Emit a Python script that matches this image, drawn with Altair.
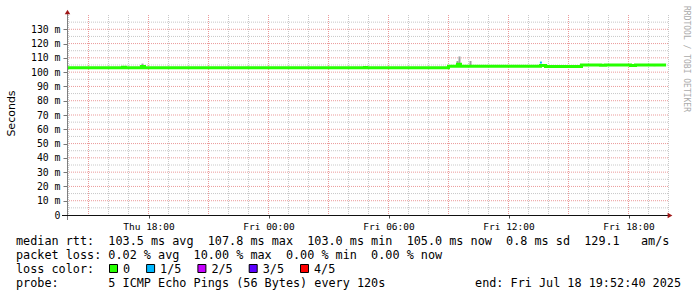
import altair as alt
import pandas as pd

NB = "\u00a0"

# ---------------- data ----------------
# time axis in hours since Thu 00:00
tick_hours = [18, 24, 30, 36, 42]
tick_labels = ["Thu 18:00", "Fri 00:00", "Fri 06:00", "Fri 12:00", "Fri 18:00"]
y_tick_values = [0, 10, 20, 30, 40, 50, 60, 70, 80, 90, 100, 110, 120, 130]

# median rtt (ms), step series
median_t = [13.925, 16.70, 16.85, 17.65, 17.80, 28.80, 28.90, 33.00, 33.45, 33.60,
            37.60, 37.85, 39.65, 40.60, 40.85, 42.10, 42.35, 43.88]
median_v = [103.0, 103.4, 103.0, 104.0, 103.0, 103.3, 103.0, 104.2, 105.5, 104.2,
            104.6, 104.0, 105.0, 104.8, 105.0, 104.7, 105.0, 105.0]

# smoke (ping spread), ms
smoke_t = [16.75, 17.70, 22.95, 28.85, 33.45, 33.55, 34.10, 37.65, 39.90, 40.70, 41.30, 42.60, 43.30]
smoke_lo = [103.0, 103.0, 103.0, 103.0, 104.2, 104.2, 104.2, 104.3, 104.2, 104.2, 104.3, 104.3, 104.2]
smoke_hi = [103.8, 106.0, 103.8, 104.2, 107.8, 111.0, 107.8, 105.5, 105.0, 104.8, 104.8, 104.9, 105.2]

# packet-loss coloured median piece
loss_t = [37.62]
loss_lo = [106.0]
loss_hi = [107.4]

legend_line1 = "median rtt:  103.5 ms avg  107.8 ms max  103.0 ms min  105.0 ms now  0.8 ms sd  129.1   am/s"
legend_line2 = "packet loss: 0.02 % avg  10.00 % max  0.00 % min  0.00 % now"
legend_line3 = "loss color:"
legend_line4 = "probe:       5 ICMP Echo Pings (56 Bytes) every 120s"
legend_end = "end: Fri Jul 18 19:52:40 2025"
watermark = "RRDTOOL / TOBI OETIKER"
loss_labels = ["0", "1/5", "2/5", "3/5", "4/5"]
loss_colors = ["#26ff00", "#00b8ff", "#c600ff", "#5b00ff", "#ff0000"]

# ---------------- layout ----------------
X0, X1 = 13.925, 44.025
W, H = 602, 200
MONO = "DejaVu Sans Mono"
CW = 7.1

xscale = alt.Scale(domain=[X0, X1], nice=False, zero=False)
yscale = alt.Scale(domain=[0, 140], nice=False, zero=False)

label_expr_x = ("[" + ",".join(f"'{l}'" for l in tick_labels) + "][indexof(["
                + ",".join(str(h) for h in tick_hours) + "], datum.value)]")
label_expr_y = f"datum.value == 0 ? '0{NB}{NB}' : datum.value + '{NB}m'"

xaxis = alt.Axis(values=tick_hours, labelExpr=label_expr_x, labelFont=MONO, labelFontSize=9.5,
                 labelColor="#000000", domain=False, grid=False, ticks=True, tickSize=3,
                 tickColor="#555555", labelPadding=3, title=None, labelFlush=False)
yaxis = alt.Axis(values=y_tick_values, labelExpr=label_expr_y, labelFont=MONO, labelFontSize=9.8,
                 labelColor="#000000", domain=False, grid=False, ticks=True, tickSize=4,
                 tickColor="#777777", labelPadding=3, title="Seconds", titleFont="DejaVu Sans",
                 titleFontSize=11, titleFontWeight="normal", titleColor="#000000",
                 titleX=-56, titleY=98, titleAlign="center", titleBaseline="middle",
                 labelOverlap=False)


def X(field):
    return alt.X(field, type="quantitative", scale=xscale, axis=xaxis)


def Y(field):
    return alt.Y(field, type="quantitative", scale=yscale, axis=yaxis)


layers = []

# grid
minor_h = [h for h in range(14, 45) if h % 3 != 0]
major_h = [h for h in range(15, 45) if h % 3 == 0]
minor_v = [v for v in range(5, 140, 10)]
major_v = [v for v in range(10, 140, 10)]

layers.append(alt.Chart(pd.DataFrame({"h": minor_h})).mark_rule(
    color="#c8c8c8", strokeWidth=1, strokeDash=[1, 1]).encode(
    x=X("h"), y=alt.value(0), y2=alt.value(H)))
layers.append(alt.Chart(pd.DataFrame({"v": minor_v})).mark_rule(
    color="#c8c8c8", strokeWidth=1, strokeDash=[1, 1]).encode(
    y=Y("v"), x=alt.value(0), x2=alt.value(W)))
layers.append(alt.Chart(pd.DataFrame({"h": major_h})).mark_rule(
    color="#eb9a9a", strokeWidth=1, strokeDash=[1, 1]).encode(
    x=X("h"), y=alt.value(0), y2=alt.value(H)))
layers.append(alt.Chart(pd.DataFrame({"v": major_v})).mark_rule(
    color="#eb9a9a", strokeWidth=1, strokeDash=[1, 1]).encode(
    y=Y("v"), x=alt.value(0), x2=alt.value(W)))

# smoke
layers.append(alt.Chart(pd.DataFrame({"t": smoke_t, "lo": smoke_lo, "hi": smoke_hi})).mark_rule(
    color="#a0a0a0", strokeWidth=2).encode(x=X("t"), y=Y("lo"), y2=alt.Y2("hi")))

# median
layers.append(alt.Chart(pd.DataFrame({"t": median_t, "v": median_v})).mark_line(
    interpolate="step-after", strokeWidth=3, color="#26ff00", strokeCap="butt").encode(
    x=X("t"), y=Y("v")))

# loss piece
layers.append(alt.Chart(pd.DataFrame({"t": loss_t, "lo": loss_lo, "hi": loss_hi})).mark_rule(
    color="#00b8ff", strokeWidth=2).encode(x=X("t"), y=Y("lo"), y2=alt.Y2("hi")))

# axes lines and arrows
one = pd.DataFrame({"a": [0]})
layers.append(alt.Chart(one).mark_rule(color="#808080", strokeWidth=1).encode(
    x=alt.value(0.5), y=alt.value(-3), y2=alt.value(H + 5)))
layers.append(alt.Chart(one).mark_rule(color="#111111", strokeWidth=1).encode(
    x=alt.value(-5), x2=alt.value(W), y=alt.value(H + 0.5)))
layers.append(alt.Chart(one).mark_point(shape="triangle-up", filled=True, size=30,
                                        color="#a01818", opacity=1).encode(
    x=alt.value(0.5), y=alt.value(-3)))
layers.append(alt.Chart(one).mark_point(shape="triangle-right", filled=True, size=30,
                                        color="#a01818", opacity=1).encode(
    x=alt.value(W + 1), y=alt.value(H + 0.5)))


def txt(s, x, y, align="left", size=11.8, color="#000000", font=MONO, angle=0):
    return alt.Chart(pd.DataFrame({"s": [s.replace(" ", NB)]})).mark_text(
        align=align, baseline="middle", font=font, fontSize=size, color=color, angle=angle).encode(
        x=alt.value(x), y=alt.value(y), text="s:N")


LX = -51
layers.append(txt(legend_line1, LX, 226))
layers.append(txt(legend_line2, LX, 240))
layers.append(txt(legend_line3, LX, 254))
layers.append(txt(legend_line4, LX, 268))
layers.append(txt(legend_end, 614, 268, align="right"))
layers.append(txt(watermark, 619, 44, align="center", size=8, color="#aaaaaa", angle=90))

bx = 42.0
for lab, col in zip(loss_labels, loss_colors):
    layers.append(alt.Chart(one).mark_rect(fill=col, stroke="#000000", strokeWidth=1).encode(
        x=alt.value(bx + 0.5), x2=alt.value(bx + 8.5), y=alt.value(249.5), y2=alt.value(257.5)))
    layers.append(txt(lab, bx + 14, 254))
    bx += 14 + len(lab) * CW + 16

chart = alt.layer(*layers).properties(
    width=W, height=H,
    padding={"left": 67, "top": 15, "right": 28, "bottom": 82},
    autosize=alt.AutoSizeParams(type="none"),
    background="white",
).configure_view(stroke=None)

chart.save("out.html", embed_options={"renderer": "svg", "actions": False})
